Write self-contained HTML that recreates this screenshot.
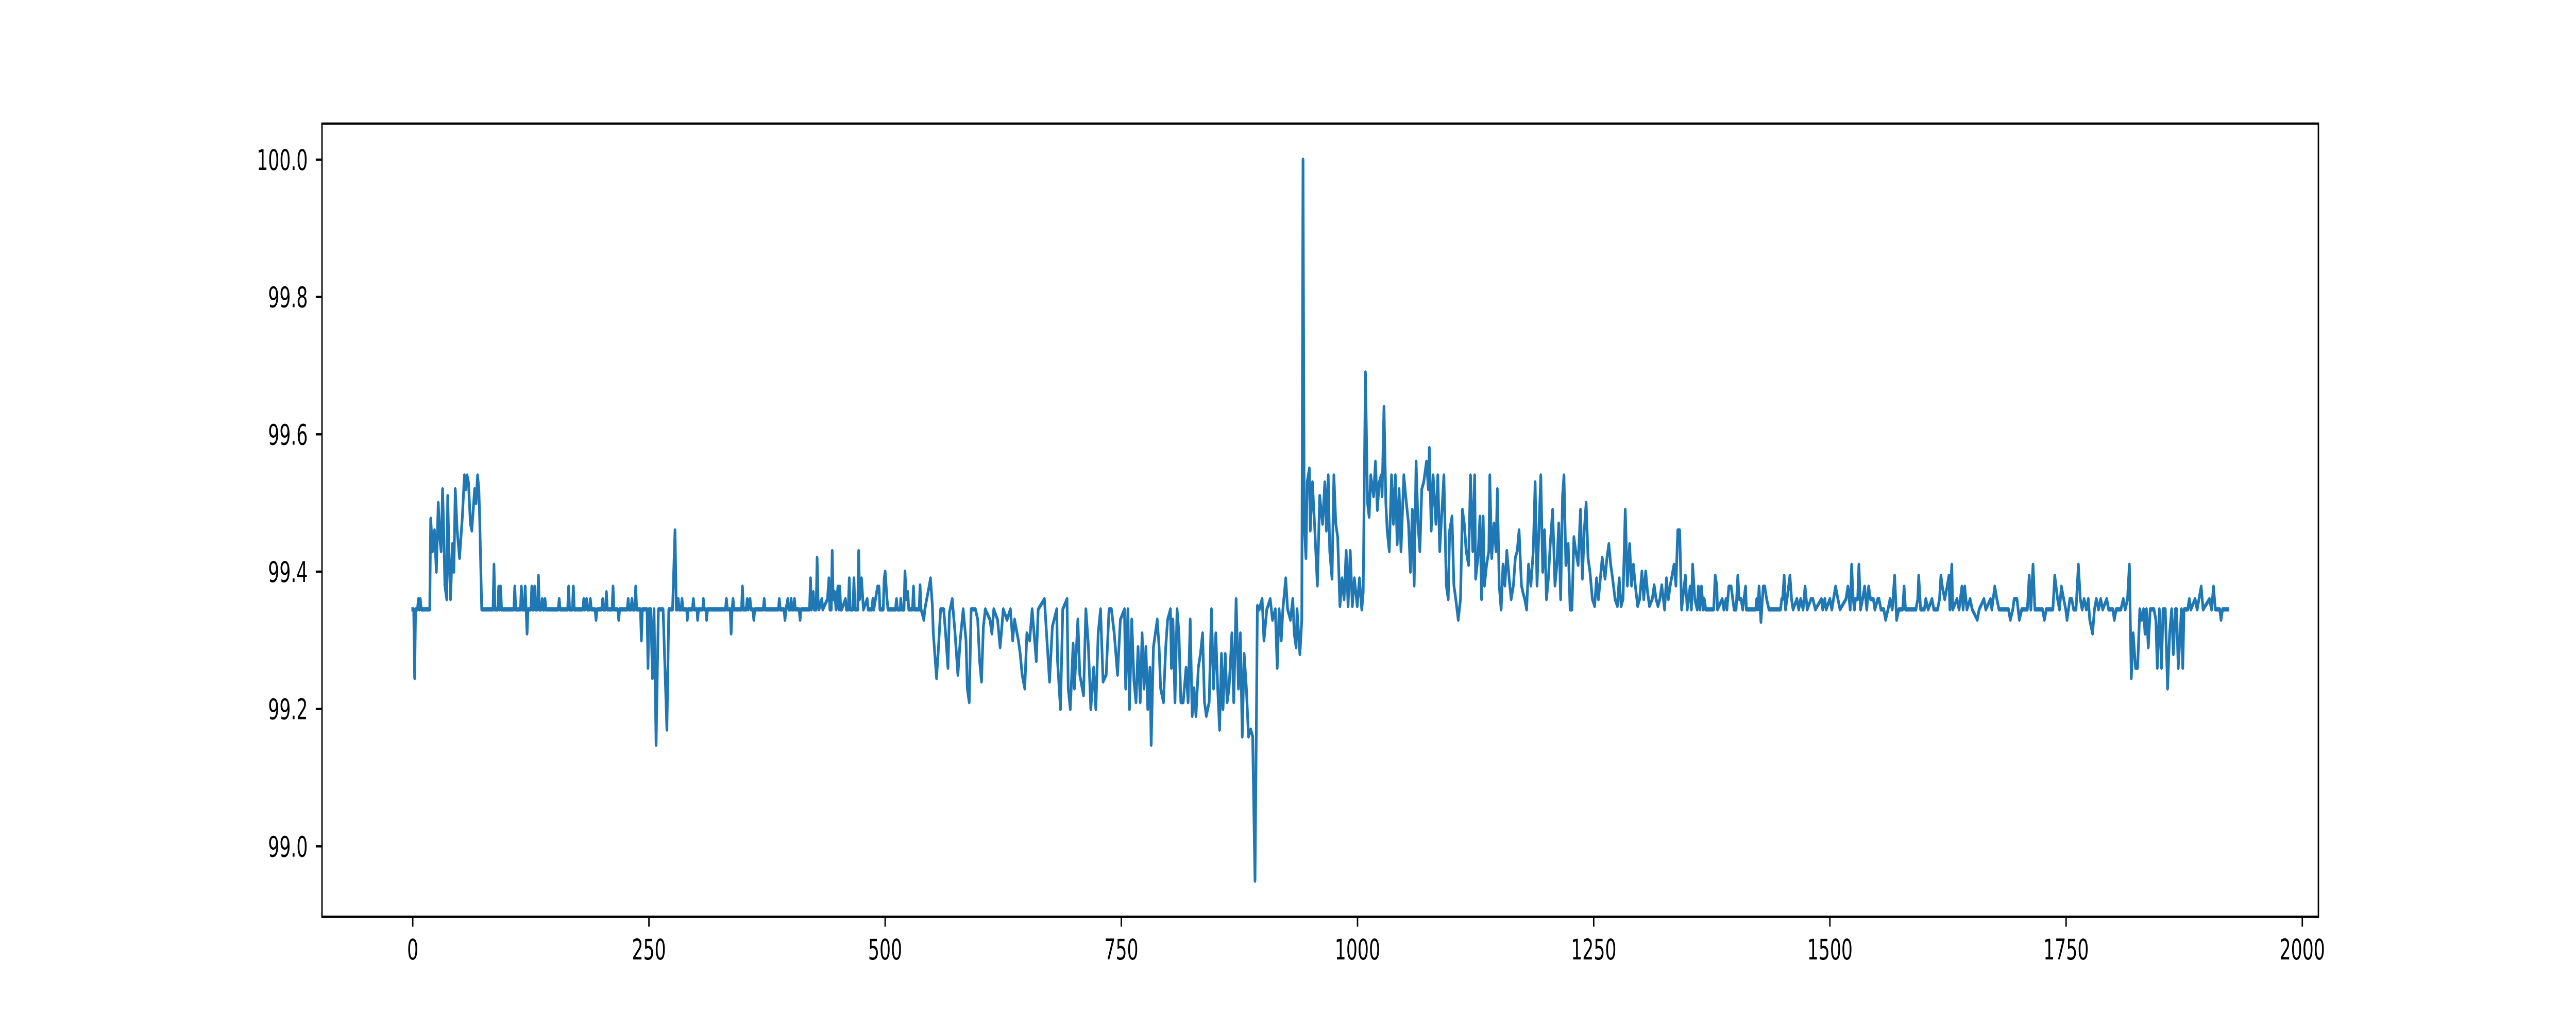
<!DOCTYPE html>
<html><head><meta charset="utf-8"><style>
html,body{margin:0;padding:0;background:#fff;overflow:hidden;width:100%;height:100%;}
svg{display:block;width:100vw;height:100vh;}
text{font-family:"DejaVu Sans","Liberation Sans",sans-serif;font-size:55.5px;fill:#000;}
</style></head><body>
<svg id="chart" viewBox="0 0 8000 2000" preserveAspectRatio="none" xmlns="http://www.w3.org/2000/svg">
<rect x="0" y="0" width="8000" height="2000" fill="#fff"/>
<g id="plot"></g>
<g id="axes"></g>
</svg>
<script>
const xTicks = [0, 250, 500, 750, 1000, 1250, 1500, 1750, 2000];
const xTickLabels = ["0","250","500","750","1000","1250","1500","1750","2000"];
const yTicks = [99.0, 99.2, 99.4, 99.6, 99.8, 100.0];
const yTickLabels = ["99.0","99.2","99.4","99.6","99.8","100.0"];

const segStart = [[0,99.345],[1,99.345],[2,99.245],[3,99.345],[5,99.345],[6,99.36],[7,99.345],[8,99.36],[9,99.345],[18,99.345],
[19,99.477],[21,99.43],[23,99.46],[25,99.40],[27,99.50],[28.6,99.45],[30,99.43],[31.6,99.52],[33,99.45],[34,99.38],[36,99.36],[37,99.51],[38.5,99.42],[40,99.36],[42,99.44],[43.5,99.40],[45,99.52],[47,99.46],[49.5,99.42],[51,99.45],[52.5,99.48],[54.7,99.54],[56,99.52],[57.5,99.54],[59,99.53],[60,99.50],[61,99.47],[62.5,99.46],[64,99.49],[65.5,99.52],[67,99.50],[68.6,99.54],[70,99.52],[71,99.47],[73,99.345]];

const segFlat1 = [[85,99.345],[86,99.41],[87,99.345],[90,99.345],[91,99.378],[92,99.345],[93,99.378],[94,99.345],[107,99.345],[108,99.378],[109,99.345],[114,99.345],[115,99.378],[116,99.345],[118,99.345],[119,99.378],[120,99.345],[121,99.31],[122,99.345],[125,99.345],[126,99.378],[127,99.345],[128,99.345],[129,99.378],[130,99.345],[132,99.345],[133,99.394],[134,99.345],[136,99.345],[137,99.36],[138,99.345],[139,99.345],[140,99.36],[141,99.345],[154,99.345],[155,99.36],[156,99.345],[164,99.345],[165,99.378],[166,99.345],[169,99.345],[170,99.378],[171,99.345],[180,99.345],[181,99.36],[182,99.345],[184,99.36],[185,99.345],[187,99.345],[188,99.36],[189,99.345],[193,99.345],[194,99.33],[195,99.345],[200,99.345],[201,99.36],[202,99.345],[204,99.345],[205,99.37],[206,99.345],[211,99.345],[212,99.378],[213,99.345],[217,99.345],[218,99.33],[219,99.345],[227,99.345],[228,99.36],[229,99.345],[231,99.345],[232,99.36],[233,99.345],[235,99.345],[236,99.378],[237,99.345],[241,99.345],[242,99.30],[243,99.345],[248,99.345],[249,99.26],[250,99.345],[252,99.345],[253.7,99.245],[255.4,99.345],[257.6,99.148],[260,99.345],[265,99.345],[266.7,99.27],[269,99.17],[271,99.345],[275,99.345],[277.6,99.46],[279,99.345]];

const segFlat2 = [[280,99.345],[281,99.36],[282,99.345],[284,99.345],[285,99.36],[286,99.345],[290,99.345],[290.6,99.33],[291.5,99.345],[296,99.345],[297,99.36],[298,99.345],[301,99.345],[301.5,99.33],[302.5,99.345],[307,99.345],[307.6,99.36],[308.5,99.345],[310.5,99.345],[311,99.33],[312,99.345],[331,99.345],[332,99.36],[333,99.345],[336,99.345],[337,99.31],[338,99.345],[339,99.36],[340,99.345],[348,99.345],[349,99.378],[350,99.345],[353,99.345],[354,99.36],[355,99.345],[357,99.36],[358,99.345],[360,99.345],[361,99.33],[362,99.345],[371,99.345],[372,99.36],[373,99.345],[387,99.345],[388,99.36],[389,99.345],[393,99.345],[394,99.33],[395,99.345],[397,99.36],[398,99.345],[400,99.345],[400.5,99.36],[401.5,99.345],[403,99.345],[404,99.36],[405,99.345],[409,99.345],[410,99.33],[411,99.345],[420,99.345],[421,99.39],[422,99.345],[424,99.37],[425,99.345],[427,99.345],[428,99.42],[429,99.36],[430,99.345],[433,99.36],[434,99.345],[439,99.36],[440.5,99.39],[441.5,99.345],[443,99.345],[444,99.43],[445,99.36],[446.6,99.37],[448,99.345],[450,99.378],[451,99.345],[452,99.378],[453,99.345],[454,99.345],[458,99.36],[459,99.345],[461,99.345],[462,99.39],[463,99.345],[466,99.345],[467,99.39],[468,99.345],[471,99.345],[472,99.43],[473,99.36],[475,99.39],[477,99.345],[481,99.36],[482,99.345],[486,99.345],[487,99.36],[488,99.345],[492,99.378],[493.5,99.378],[494.5,99.345],[498,99.345],[499,99.39],[500,99.40],[502,99.36],[503,99.345],[511,99.345],[512,99.36],[513,99.345],[516,99.345],[516.5,99.36],[517.5,99.345],[520,99.345],[521,99.40],[522.5,99.36],[524,99.37],[525,99.345],[529,99.345],[530,99.378],[531,99.345],[536,99.345],[537,99.38],[538,99.345],[541,99.33],[542,99.345],[544,99.36],[546.5,99.378],[548,99.39],[550,99.35]];

const segLow = [[551,99.31],[554.4,99.245],[556.5,99.29],[558.7,99.345],[562,99.345],[564,99.31],[566.5,99.26],[568,99.34],[571,99.36],[574,99.31],[577,99.25],[579.5,99.30],[582.6,99.345],[585.6,99.30],[587,99.23],[589,99.21],[591,99.345],[595.6,99.345],[598,99.33],[600,99.27],[602,99.24],[604,99.32],[606,99.345],[611,99.33],[613,99.31],[615,99.345],[619,99.33],[621.7,99.29],[623,99.31],[625,99.345],[629,99.33],[632.6,99.345],[635,99.30],[637,99.33],[641,99.30],[643,99.28],[645,99.25],[647.8,99.23],[650,99.31],
[653,99.30],[655.6,99.345],[660,99.27],[662,99.345],[668.6,99.36],[674,99.24],[677,99.32],[681.6,99.345],[682.5,99.27],[685.6,99.20],[688,99.345],[692.5,99.36],[693.8,99.23],[696,99.20],[699,99.295],[700.3,99.23],[704,99.33],[706,99.25],[710,99.22],[712.5,99.345],[715,99.295],[717.7,99.20],[720.7,99.26],[723,99.20],[725.5,99.31],[728,99.345],[730.7,99.24],[734,99.25],[737,99.345],[739.5,99.345],[742.5,99.31],[746,99.25],[749,99.33],[753.3,99.345],[754.6,99.23],[757,99.345],[758.6,99.20],[761,99.33],[763.4,99.24],[765.5,99.21],[767.7,99.29],[770,99.21],[772,99.31],[774,99.23],[776,99.29],[778,99.20],[780.3,99.26],[781.6,99.148],[784,99.29],[786,99.31],[788,99.33],[790,99.29],[791.6,99.23],[794.6,99.21],[797,99.29],[799,99.33],[802,99.345],[803,99.26],[804.6,99.33],[806.8,99.21],[809,99.345],[811,99.31],[813,99.21],[815.5,99.21],[818.5,99.26],[820.7,99.21],[822.9,99.33],[825,99.19],[827,99.23],[829,99.19],[831.5,99.26],[833.7,99.28],[836,99.31],[838,99.21],[840,99.19],[843,99.21],[845.4,99.345],[847.6,99.23],[850,99.31],[852,99.23],[854,99.17],[856,99.28],[857.6,99.20],[860,99.28],[862,99.21],[864,99.23],[867,99.31],[869,99.21],[871.5,99.36],[874,99.23],[876,99.31],[878,99.16],[880,99.28],[882.4,99.23],[884.6,99.16],[887,99.17],[889,99.16],[891.5,98.95]];

const segMid = [[894,99.35],[896,99.345],[899,99.36],[901,99.30],[904,99.345],[907.6,99.36],[910,99.33],[913,99.345],[915,99.26],[917,99.345],[919.3,99.30],[921,99.345],[924,99.39],[926,99.345],[929,99.33],[931.5,99.36],[933,99.31],[935,99.29],[936,99.345],[939,99.28],[941,99.33],[942.3,100.0],[943.6,99.47],[945.4,99.42],[946.7,99.53],[949,99.55],[950,99.46],[952.3,99.53],[954.5,99.47],[957.5,99.38],[960,99.51],[963,99.47],[965.4,99.53],[967,99.46],[969,99.54],[970.6,99.43],[973,99.39],[975,99.54],[977,99.47],[979,99.45],[981.4,99.35],[983.6,99.39],[985.8,99.36],[988,99.43],[990,99.35],[992.3,99.43],[994.5,99.35],[996.7,99.39],[999.7,99.35],[1002,99.39],[1004.5,99.345],[1006,99.37],[1008.4,99.69],[1010.6,99.50],[1012.3,99.48],[1014,99.54],[1017,99.51],[1019,99.56],[1021,99.49],[1023,99.53],[1025,99.54],[1026,99.51],[1028,99.64],[1030,99.50],[1031.4,99.46],[1033.6,99.43],[1036,99.54],[1038,99.47],[1040,99.54],[1042,99.44],[1044,99.52],[1046,99.43],[1049,99.54],[1051,99.51],[1054,99.47],[1056,99.40],[1058,99.49],[1060,99.38],[1062,99.56],[1064,99.47],[1066,99.43],[1068,99.52],[1070,99.53],[1073,99.56],[1075,99.52],[1076,99.58],[1078,99.46],[1080,99.54],[1083,99.47],[1085,99.54],[1087,99.43],[1089,99.48],[1091.4,99.54],[1094,99.38],[1096,99.36],[1097.5,99.46],[1100,99.48],[1102,99.38],[1104,99.36],[1106.6,99.33],[1109,99.36],[1111,99.49],[1113,99.47],[1115,99.43],[1117.5,99.41],[1119.6,99.54],[1122,99.43],[1124,99.54],[1125,99.39],[1127.4,99.42],[1129.6,99.48],[1131.3,99.36],[1133,99.48],[1134.4,99.38],[1136.6,99.41],[1139,99.43],[1140,99.54],[1142,99.42],[1144.4,99.47],[1146.6,99.43],[1148,99.52],[1150,99.38],[1152,99.345],[1154,99.41],[1156,99.38],[1158,99.43],[1160.5,99.39],[1162.6,99.36],[1165,99.38],[1167,99.42],[1169,99.43],[1171,99.46],[1173.5,99.38],[1175,99.37],[1177,99.36],[1179,99.345],[1181,99.41],[1183.5,99.38],[1186,99.43],[1188,99.53],[1190,99.38],[1192,99.46],[1194,99.54],[1196,99.40],[1198,99.46],[1200,99.36],[1202,99.39],[1204,99.44],[1206.5,99.49],[1209,99.38],[1211,99.41],[1213,99.47],[1215,99.36],[1217,99.51],[1218.5,99.54],[1220.5,99.41],[1223,99.44],[1225,99.345],[1227,99.345],[1229,99.45],[1231,99.43],[1233.5,99.41],[1236,99.49],[1238,99.39],[1240,99.46],[1242,99.50],[1244,99.42],[1246,99.40],[1248.6,99.36],[1251,99.35],[1253,99.39],[1255,99.36],[1257,99.39],[1259,99.42],[1262,99.39],[1264,99.42],[1266,99.44],[1268,99.41],[1270,99.39],[1272.6,99.36],[1275,99.35],[1277,99.39],[1279,99.35],[1281,99.36],[1283.4,99.49],[1285.6,99.38],[1288,99.44],[1290,99.38],[1292,99.41],[1294,99.38],[1296.5,99.35],[1298.6,99.36],[1301,99.40],[1303,99.36],[1305,99.40],[1307,99.37],[1309,99.35],[1312,99.36],[1314,99.38],[1316,99.36],[1318,99.35],[1320,99.36],[1322,99.38],[1325,99.345],[1327,99.39],[1329,99.36],[1331,99.38]];

const segEnd = [[1335,99.41],[1337,99.38],[1339,99.46],[1341,99.46],[1343,99.345],[1347,99.394],[1349,99.345],[1352,99.378],[1353.4,99.345],[1354.7,99.41],[1357,99.36],[1359.5,99.345],[1360.8,99.378],[1362.5,99.345],[1364,99.378],[1366,99.345],[1367,99.36],[1368.6,99.345],[1377,99.345],[1378.6,99.394],[1380.3,99.38],[1381,99.345],[1386,99.36],[1387.7,99.345],[1390,99.36],[1391,99.345],[1393,99.378],[1395.5,99.378],[1398.6,99.345],[1400.7,99.345],[1402.5,99.394],[1404,99.36],[1406,99.36],[1407.7,99.345],[1410.7,99.378],[1411.6,99.345],[1421.6,99.345],[1422.5,99.36],[1423.8,99.345],[1425,99.378],[1427,99.327],[1429.4,99.378],[1431,99.378],[1433,99.36],[1435.5,99.345],[1447.7,99.345],[1449,99.36],[1450,99.36],[1451.6,99.394],[1453,99.345],[1454.6,99.36],[1457.7,99.394],[1459.4,99.36],[1461,99.345],[1465,99.36],[1467,99.345],[1469,99.36],[1471.6,99.345],[1473.7,99.378],[1476,99.345],[1480,99.36],[1482,99.36],[1484.6,99.345],[1491,99.36],[1492.4,99.345],[1494.6,99.36],[1496,99.345],[1500,99.36],[1502,99.345],[1506,99.378],[1508.5,99.36],[1510.7,99.345],[1517,99.36],[1519,99.378],[1521.5,99.345],[1523,99.41],[1524.6,99.36],[1526,99.345],[1527,99.36],[1529.4,99.36],[1530.7,99.41],[1532.4,99.345],[1534.6,99.36],[1536.7,99.378],[1539,99.345],[1541,99.378],[1543,99.36],[1546,99.36],[1547.6,99.345],[1550.6,99.36],[1552,99.36],[1554,99.345],[1557,99.345],[1559,99.33],[1561.5,99.345],[1563.7,99.36],[1566,99.345],[1568.5,99.394],[1570.6,99.33],[1573,99.345],[1577,99.345],[1578.5,99.378],[1580,99.345],[1591,99.345],[1593,99.36],[1594,99.394],[1596,99.345],[1600,99.345],[1601.5,99.36],[1604,99.345],[1608,99.36],[1610,99.345],[1614,99.345],[1616,99.36],[1617.5,99.394],[1619,99.378],[1621.5,99.36],[1624,99.378],[1626,99.394],[1627,99.345],[1629,99.41],[1630,99.345],[1634.5,99.36],[1636.7,99.345],[1639.7,99.378],[1641,99.345],[1642.7,99.378],[1645,99.345],[1648.4,99.36],[1650.6,99.345],[1656,99.33],[1658,99.345],[1663,99.36],[1665,99.345],[1670,99.36],[1671.4,99.345],[1674.5,99.378],[1676.7,99.36],[1679,99.345],[1689,99.345],[1691,99.33],[1693.6,99.345],[1695,99.36],[1698,99.36],[1700.5,99.33],[1703,99.345],[1709,99.345],[1711,99.394],[1712.7,99.345],[1715,99.41],[1717,99.345],[1725,99.345],[1727,99.33],[1729,99.345],[1736,99.345],[1738,99.394],[1741,99.36],[1743,99.345],[1745,99.378],[1747.5,99.36],[1749.6,99.345],[1751,99.33],[1754,99.36],[1756,99.36],[1758,99.345],[1760.5,99.345],[1763,99.41],[1765,99.36],[1767,99.345],[1769,99.36],[1771.4,99.345],[1773.5,99.36],[1775,99.33],[1778,99.31],[1780,99.345],[1782,99.36],[1784.4,99.345],[1786.6,99.36],[1788.8,99.345],[1793,99.36],[1795,99.345],[1799.6,99.345],[1801,99.33],[1803,99.345],[1808,99.345],[1810.5,99.36],[1812.6,99.345],[1815,99.36],[1817,99.41],[1819,99.245],[1821,99.31],[1823.5,99.26],[1825.7,99.26],[1828,99.345],[1830,99.33],[1832,99.345],[1833.5,99.31],[1835,99.345],[1837,99.29],[1839,99.345],[1843,99.345],[1845,99.33],[1846.5,99.26],[1848.7,99.345],[1851,99.26],[1852.6,99.345],[1855,99.345],[1857.4,99.23],[1859.6,99.31],[1861.7,99.345],[1863.5,99.28],[1865.6,99.345],[1867,99.345],[1868.7,99.26],[1870.4,99.30],[1872,99.345],[1873.5,99.26],[1874.8,99.345],[1878.7,99.345],[1880.4,99.36],[1882,99.345],[1886.5,99.36],[1888.7,99.345],[1893,99.378],[1895,99.345],[1901.7,99.36],[1904,99.345],[1906,99.378],[1908,99.345],[1912.6,99.345],[1914,99.33],[1915.6,99.345],[1921,99.345]];

const series = segStart.concat(segFlat1, segFlat2, segLow, segMid, segEnd);

const X0 = 1000, X1 = 7200, Y0 = 240, Y1 = 1780;
const xMin = -96.05, xMax = 2017.05, yMin = 98.8975, yMax = 100.0525;
const sx = v => X0 + (v - xMin) / (xMax - xMin) * (X1 - X0);
const sy = v => Y1 - (v - yMin) / (yMax - yMin) * (Y1 - Y0);
const NS = "http://www.w3.org/2000/svg";
const plot = document.getElementById('plot');
const axes = document.getElementById('axes');

const line = document.createElementNS(NS, 'polyline');
line.setAttribute('points', series.map(p => sx(p[0]).toFixed(1) + ',' + sy(p[1]).toFixed(1)).join(' '));
line.setAttribute('fill', 'none');
line.setAttribute('stroke', '#1f77b4');
line.setAttribute('stroke-width', '8.3');
line.setAttribute('stroke-linejoin', 'round');
line.setAttribute('stroke-linecap', 'square');


plot.appendChild(line);

const frame = document.createElementNS(NS, 'rect');
frame.setAttribute('x', X0); frame.setAttribute('y', Y0);
frame.setAttribute('width', X1 - X0); frame.setAttribute('height', Y1 - Y0);
frame.setAttribute('fill', 'none'); frame.setAttribute('stroke', '#000'); frame.setAttribute('stroke-width', '4.4');


axes.appendChild(frame);

xTicks.forEach((t, i) => {
  const x = sx(t);
  const tk = document.createElementNS(NS, 'line');
  tk.setAttribute('x1', x); tk.setAttribute('x2', x);
  tk.setAttribute('y1', Y1); tk.setAttribute('y2', Y1 + 19.4);
  tk.setAttribute('stroke', '#000'); tk.setAttribute('stroke-width', '4.4');
  
  
  axes.appendChild(tk);
  const lb = document.createElementNS(NS, 'text');
  lb.setAttribute('x', x); lb.setAttribute('y', 1863);
  lb.setAttribute('text-anchor', 'middle');
  lb.textContent = xTickLabels[i];
  
  
  axes.appendChild(lb);
});
yTicks.forEach((t, i) => {
  const y = sy(t);
  const tk = document.createElementNS(NS, 'line');
  tk.setAttribute('x1', X0 - 19.4); tk.setAttribute('x2', X0);
  tk.setAttribute('y1', y); tk.setAttribute('y2', y);
  tk.setAttribute('stroke', '#000'); tk.setAttribute('stroke-width', '4.4');
  
  
  axes.appendChild(tk);
  const lb = document.createElementNS(NS, 'text');
  lb.setAttribute('x', X0 - 44); lb.setAttribute('y', y + 20);
  lb.setAttribute('text-anchor', 'end');
  lb.textContent = yTickLabels[i];
  
  
  axes.appendChild(lb);
});
</script>
</body></html>
